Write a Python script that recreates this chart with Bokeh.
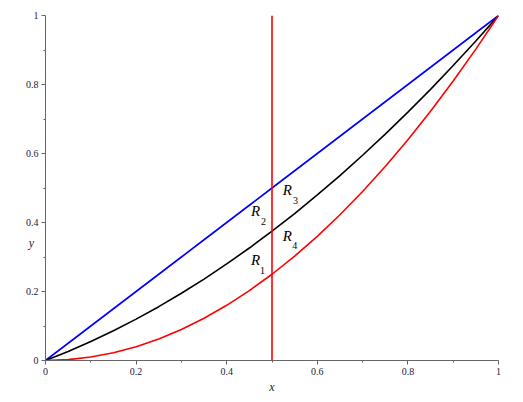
from bokeh.plotting import figure
from bokeh.models import Range1d, FixedTicker, Label, ColumnDataSource
from bokeh.core.properties import value
from bokeh.embed import file_html
from bokeh.resources import INLINE

# data
x_vals = [0, 0.05, 0.1, 0.15, 0.2, 0.25, 0.3, 0.35, 0.4, 0.45, 0.5,
          0.55, 0.6, 0.65, 0.7, 0.75, 0.8, 0.85, 0.9, 0.95, 1.0]
blue_y = [0, 0.05, 0.1, 0.15, 0.2, 0.25, 0.3, 0.35, 0.4, 0.45, 0.5,
          0.55, 0.6, 0.65, 0.7, 0.75, 0.8, 0.85, 0.9, 0.95, 1.0]
black_y = [0, 0.026, 0.055, 0.086, 0.12, 0.156, 0.195, 0.236, 0.28, 0.326, 0.375,
           0.426, 0.48, 0.536, 0.595, 0.656, 0.72, 0.786, 0.855, 0.926, 1.0]
red_y = [0, 0.0025, 0.01, 0.0225, 0.04, 0.0625, 0.09, 0.1225, 0.16, 0.2025, 0.25,
         0.3025, 0.36, 0.4225, 0.49, 0.5625, 0.64, 0.7225, 0.81, 0.9025, 1.0]
vline_x = 0.5
vline_y = [0, 1]

major_ticks = [0, 0.2, 0.4, 0.6, 0.8, 1.0]
minor_ticks = [0.1, 0.3, 0.5, 0.7, 0.9]

region_names = ["R", "R", "R", "R"]
region_subs = ["1", "2", "3", "4"]
region_x = [0.464, 0.464, 0.534, 0.534]
region_y = [0.290, 0.432, 0.493, 0.362]
sub_x = [0.479, 0.481, 0.552, 0.550]
sub_y = [0.261, 0.403, 0.464, 0.333]

p = figure(width=523, height=402, output_backend="svg", toolbar_location=None,
           x_range=Range1d(0, 1), y_range=Range1d(0, 1),
           min_border_left=45, min_border_right=25, min_border_top=15, min_border_bottom=42)
p.outline_line_color = None
p.grid.visible = False
p.background_fill_color = "white"
p.border_fill_color = "white"

for ax in (p.xaxis[0], p.yaxis[0]):
    ax.ticker = FixedTicker(ticks=major_ticks, minor_ticks=minor_ticks)
    ax.axis_line_color = "#666666"
    ax.major_tick_line_color = "#666666"
    ax.minor_tick_line_color = "#666666"
    ax.major_tick_in = 0
    ax.major_tick_out = 4
    ax.minor_tick_in = 0
    ax.minor_tick_out = 2
    ax.major_label_text_font = "Liberation Serif"
    ax.major_label_text_font_size = "10px"
    ax.major_label_text_color = "#202040"
    ax.major_label_standoff = 3
    ax.major_label_overrides = {0: "0", 1.0: "1", 0.2: "0.2", 0.4: "0.4", 0.6: "0.6", 0.8: "0.8"}

p.xaxis.axis_label = "x"
p.xaxis.axis_label_text_font = "Liberation Serif"
p.xaxis.axis_label_text_font_style = "italic"
p.xaxis.axis_label_text_font_size = "12px"
p.xaxis.axis_label_text_color = "#202040"
p.xaxis.axis_label_standoff = 2

lw = 1.6
p.line(x_vals, blue_y, line_color="#0000ff", line_width=lw)
p.line(x_vals, black_y, line_color="#000000", line_width=lw)
p.line(x_vals, red_y, line_color="#ff0000", line_width=lw)
p.line([vline_x, vline_x], vline_y, line_color="#ff0000", line_width=lw)

src = ColumnDataSource(dict(x=region_x, y=region_y, t=region_names))
p.text(x="x", y="y", text="t", source=src, text_font=value("Liberation Serif"),
       text_font_style="italic", text_font_size="15px", text_align="center",
       text_baseline="middle", text_color="black")
src2 = ColumnDataSource(dict(x=sub_x, y=sub_y, t=region_subs))
p.text(x="x", y="y", text="t", source=src2, text_font=value("Liberation Serif"),
       text_font_size="10px", text_align="center", text_baseline="middle",
       text_color="black")

p.add_layout(Label(x=14, y=118, x_units="screen", y_units="screen", text="y",
                   text_font="Liberation Serif",
                   text_font_style="italic", text_font_size="12px", text_align="center",
                   text_baseline="middle", text_color="#202040"), "left")

open("out.html", "w").write(file_html(p, INLINE))
